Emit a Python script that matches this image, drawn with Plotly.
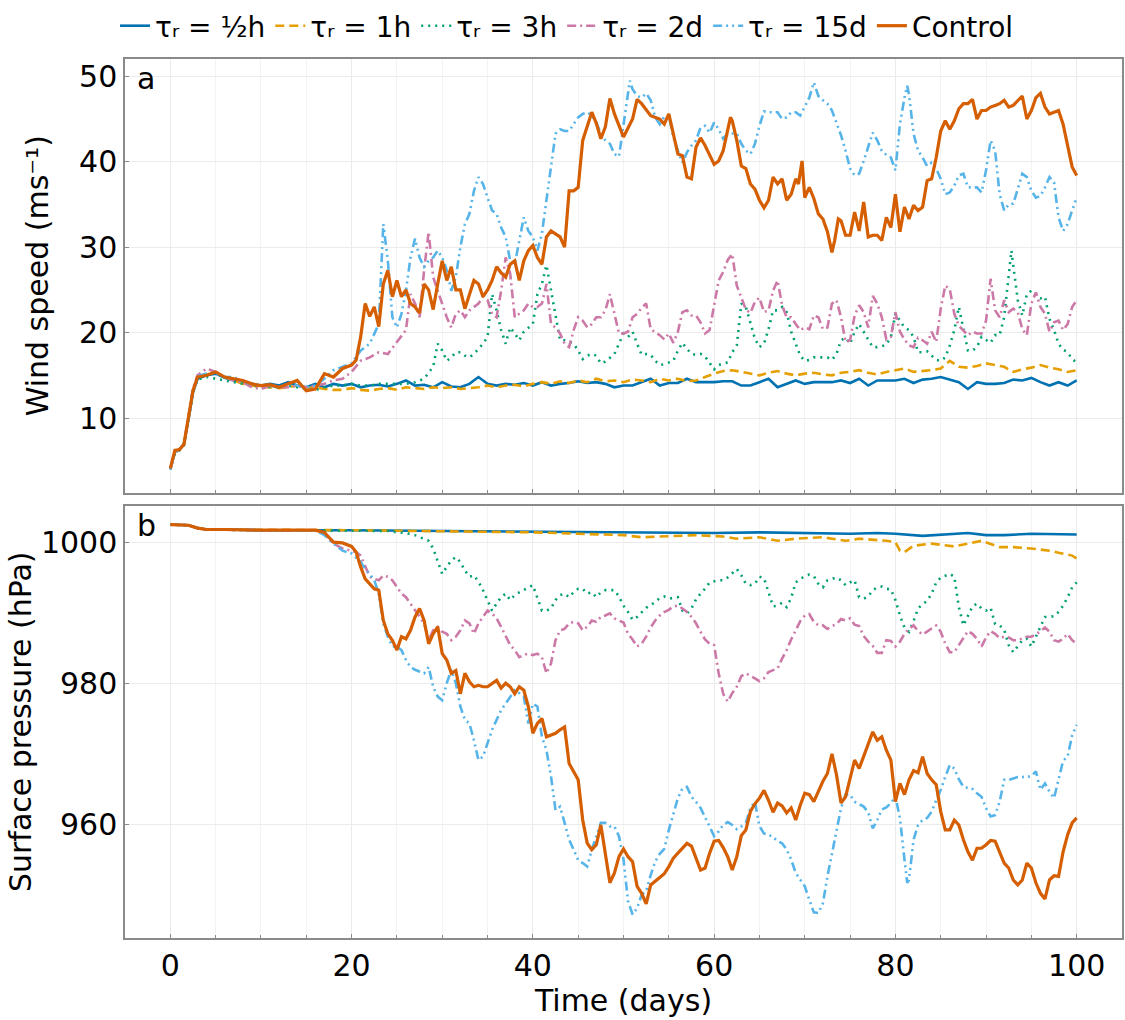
import plotly.graph_objects as go

# ---------------- data (day, value) ----------------
wind_half = [(0,4.0),(0.5,6.0),(1,6.3),(1.5,6.9),(2,9.8),(2.5,13.0),(3,14.6),(4,15.0),(5,15.2),(6,14.7),(7,14.4),(8,14.2),(9,14.0),(10,13.8),(11,14.0),(12,13.8),(13,14.2),(14,13.8),(15,13.6),(16,14.0),(17,13.6),(18,14.0),(19,13.8),(20,14.0),(21,13.6),(22,13.8),(23,13.9),(24,13.7),(25,14.0),(26,14.4),(27,13.8),(28,13.9),(29,13.6),(30,14.2),(31,13.7),(32,13.6),(33,14.0),(34,14.8),(35,14.0),(36,13.8),(37,14.0),(38,13.9),(39,14.1),(40,13.8),(41,14.2),(42,13.8),(43,14.0),(44,14.1),(45,14.3),(46,14.1),(47,14.2),(48,14.0),(49,13.6),(50,13.8),(51,13.8),(52,14.2),(53,14.6),(54,13.8),(55,14.1),(56,14.1),(57,14.6),(58,14.2),(59,14.2),(60,14.2),(61,14.3),(62,14.3),(63,13.8),(64,13.8),(65,14.2),(66,14.6),(67,13.6),(68,14.0),(69,14.4),(70,14.0),(71,14.2),(72,14.2),(73,14.2),(74,14.4),(75,14.1),(76,14.6),(77,13.8),(78,14.4),(79,14.4),(80,14.4),(81,14.6),(82,14.1),(83,14.5),(84,14.6),(85,14.8),(86,14.5),(87,14.2),(88,13.4),(89,14.2),(90,14.0),(91,14.0),(92,14.1),(93,14.5),(94,14.4),(95,14.7),(96,14.2),(97,13.8),(98,14.2),(99,13.8),(100,14.4)]

wind_1h = [(0,4.0),(0.5,6.0),(1,6.3),(1.5,7.0),(2,10.0),(2.5,13.2),(3,14.8),(4,15.2),(5,15.4),(6,14.8),(7,14.4),(8,14.0),(9,13.8),(10,13.6),(11,13.6),(12,13.5),(13,13.6),(14,13.8),(15,13.5),(16,13.6),(17,13.4),(18,13.3),(19,13.3),(20,13.5),(21,13.3),(22,13.2),(23,13.4),(24,13.5),(25,13.3),(26,13.6),(27,13.5),(28,13.4),(29,13.6),(30,13.5),(31,13.6),(32,13.4),(33,13.5),(34,13.6),(35,13.8),(36,13.6),(37,13.8),(38,13.9),(39,13.7),(40,14.0),(41,14.2),(42,14.0),(43,14.3),(44,14.1),(45,14.4),(46,14.2),(47,14.6),(48,14.3),(49,14.4),(50,14.2),(51,14.5),(52,14.4),(53,14.2),(54,14.6),(55,14.4),(56,14.6),(57,14.3),(58,14.4),(59,14.8),(60,15.2),(61,15.5),(62,15.6),(63,15.4),(64,15.2),(65,15.0),(66,15.3),(67,15.5),(68,15.2),(69,15.0),(70,15.2),(71,15.3),(72,15.1),(73,15.0),(74,15.3),(75,15.4),(76,15.6),(77,15.3),(78,15.1),(79,15.4),(80,15.6),(81,15.8),(82,15.4),(83,15.5),(84,15.6),(85,15.8),(86,16.7),(87,16.0),(88,15.9),(89,16.1),(90,16.4),(91,16.2),(92,16.0),(93,15.4),(94,15.7),(95,15.9),(96,16.2),(97,15.9),(98,15.7),(99,15.4),(100,15.6)]

wind_3h = [(0,4.0),(0.5,5.8),(1,6.2),(1.5,6.8),(2,9.8),(2.5,13.0),(3,14.5),(4,14.8),(5,14.6),(6,14.4),(7,14.2),(8,14.0),(9,13.8),(10,13.8),(11,13.6),(12,13.6),(13,13.8),(14,13.6),(15,13.4),(16,13.3),(17,13.6),(18,13.8),(19,13.8),(20,14.0),(21,13.8),(22,13.8),(23,14.0),(24,14.0),(25,14.0),(26,14.0),(27,14.2),(28,14.6),(29,16.0),(29.5,18.7),(30,17.9),(30.5,16.7),(31,17.1),(31.5,17.7),(32,17.7),(32.5,17.3),(33,17.1),(33.5,17.5),(34,18.1),(34.5,18.7),(35,19.5),(35.5,24.5),(36,22.6),(36.5,20.3),(37,18.7),(37.5,20.6),(38,19.9),(38.5,19.1),(39,20.1),(39.5,20.6),(40,21.0),(40.5,24.5),(41,25.7),(41.5,27.9),(42,24.9),(42.5,21.8),(43,19.1),(43.5,19.1),(44,18.9),(44.5,18.7),(45,17.9),(45.5,16.9),(46,17.3),(46.5,17.5),(47,17.3),(47.5,16.4),(48,16.6),(48.5,17.1),(49,17.5),(49.5,18.7),(50,19.9),(50.5,19.5),(51,20.1),(51.5,18.7),(52,17.4),(52.5,17.5),(53,17.4),(53.5,16.7),(54,16.2),(54.5,16.3),(55,16.5),(55.5,16.7),(56,17.9),(56.5,18.8),(57,18.1),(57.5,17.5),(58,17.4),(58.5,17.5),(59,17.2),(59.5,16.4),(60,15.7),(60.5,16.2),(61,16.4),(61.5,16.5),(62,17.7),(62.5,18.5),(63,23.4),(63.5,23.0),(64,21.0),(64.5,19.3),(65,18.3),(65.5,18.7),(66,20.4),(66.5,22.6),(67,22.6),(67.5,23.0),(68,22.4),(68.5,20.1),(69,18.7),(69.5,17.3),(70,16.7),(70.5,16.8),(71,17.1),(71.5,17.1),(72,17.1),(72.5,17.1),(73,16.8),(73.5,17.5),(74,19.1),(74.5,19.4),(75,18.7),(75.5,20.1),(76,21.0),(76.5,20.1),(77,19.1),(77.5,18.3),(78,18.3),(78.5,18.4),(79,18.6),(79.5,19.5),(80,22.2),(80.5,21.4),(81,20.6),(81.5,20.3),(82,19.5),(82.5,17.7),(83,17.7),(83.5,17.8),(84,17.3),(84.5,16.8),(85,16.7),(85.5,17.1),(86,18.5),(86.5,20.3),(87,23.0),(87.5,20.3),(88,17.9),(88.5,17.9),(89,18.3),(89.5,19.5),(90,19.1),(90.5,18.8),(91,19.7),(91.5,19.7),(92,21.8),(92.5,26.9),(92.8,29.6),(93,27.9),(93.5,23.8),(94,22.0),(94.5,24.5),(95,24.9),(95.5,24.2),(96,24.0),(96.5,24.2),(97,21.6),(97.5,20.3),(98,18.7),(98.5,18.0),(99,17.7),(99.5,16.9),(100,16.5)]

wind_2d = [(0,4.0),(0.5,6.0),(1,6.3),(1.5,7.0),(2,10.2),(2.5,13.5),(3,15.0),(4,15.8),(5,15.4),(6,14.8),(7,14.4),(8,14.2),(9,13.6),(10,13.4),(11,13.8),(12,13.6),(13,13.6),(14,13.8),(15,13.6),(16,13.8),(17,14.0),(18,14.4),(19,14.6),(20,15.4),(21,16.7),(22,17.1),(23,17.7),(24,17.5),(25,18.9),(26,20.3),(26.5,24.5),(27,23.4),(27.5,21.8),(28,27.3),(28.5,31.8),(29,26.5),(29.5,24.9),(30,23.4),(30.5,21.8),(31,20.6),(31.5,22.2),(32,22.6),(32.5,21.8),(33,22.6),(33.5,23.0),(34,23.4),(34.5,24.2),(35,23.8),(35.5,22.2),(36,21.8),(36.5,24.9),(37,28.8),(37.5,26.9),(38,21.8),(38.5,22.2),(39,22.6),(39.5,23.4),(40,23.0),(40.5,23.0),(41,23.4),(41.5,25.7),(42,21.0),(42.5,20.6),(43,19.9),(43.5,18.7),(44,18.3),(44.5,20.3),(45,21.8),(45.5,21.4),(46,20.6),(46.5,21.0),(47,21.8),(47.5,21.8),(48,22.6),(48.5,24.5),(49,22.2),(49.5,19.9),(50,19.9),(50.5,20.1),(51,21.8),(51.5,22.2),(52,22.9),(52.5,23.4),(53,20.4),(53.5,20.1),(54,19.7),(54.5,19.2),(55,19.9),(55.5,18.8),(56,20.1),(56.5,22.4),(57,22.6),(57.5,22.0),(58,22.0),(58.5,21.2),(59,19.9),(59.5,20.3),(60,23.0),(60.5,26.1),(61,27.1),(61.5,28.5),(62,29.2),(62.5,25.5),(63,24.1),(63.5,22.7),(64,22.3),(64.5,23.6),(65,24.1),(65.5,22.4),(66,22.6),(66.5,24.9),(67,26.1),(67.5,23.2),(68,21.8),(68.5,21.8),(69,21.0),(69.5,20.3),(70,20.6),(70.5,20.4),(71,22.0),(71.5,21.8),(72,20.4),(72.5,20.6),(73,23.4),(73.5,23.8),(74,21.8),(74.5,18.9),(75,19.1),(75.5,22.0),(76,23.2),(76.5,22.4),(77,20.6),(77.5,24.3),(78,23.4),(78.5,21.8),(79,19.2),(79.5,19.5),(80,22.4),(80.5,20.1),(81,19.2),(81.5,18.5),(82,18.3),(82.5,19.4),(83,19.1),(83.5,18.7),(84,20.1),(84.5,18.9),(85,22.8),(85.5,25.5),(86,25.1),(86.5,22.2),(87,20.8),(87.5,20.3),(88,19.7),(88.5,20.1),(89,19.9),(89.5,19.9),(90,21.4),(90.5,26.3),(91,22.6),(91.5,21.8),(92,23.8),(92.5,22.4),(93,22.8),(93.5,22.4),(94,20.4),(94.5,19.7),(95,23.4),(95.5,24.7),(96,23.0),(96.5,22.2),(97,20.1),(97.5,21.2),(98,21.4),(98.5,20.3),(99,21.0),(99.5,23.0),(100,23.8)]

wind_15d = [(0,4.0),(0.5,6.0),(1,6.3),(1.5,7.0),(2,10.0),(2.5,13.3),(3,14.9),(4,15.2),(5,15.2),(6,14.8),(7,14.8),(8,14.2),(9,14.0),(10,13.8),(11,13.8),(12,13.6),(13,14.0),(14,13.8),(15,13.6),(16,13.8),(17,14.6),(18,15.6),(19,16.0),(20,16.4),(21,17.9),(22,18.7),(23,21.0),(23.5,32.7),(24,28.4),(24.5,21.8),(25,20.6),(25.5,22.2),(26,24.9),(26.5,28.8),(27,31.0),(27.5,28.8),(28,27.7),(28.5,28.4),(29,28.8),(29.5,29.6),(30,28.8),(30.5,27.3),(31,24.9),(31.5,26.5),(32,30.0),(32.5,32.7),(33,33.9),(33.5,36.6),(34,38.2),(34.5,37.4),(35,35.8),(35.5,34.3),(36,33.9),(36.5,32.3),(37,31.2),(37.5,28.4),(38,28.0),(38.5,30.8),(39,33.5),(39.5,31.9),(40,31.2),(40.5,29.6),(41,31.6),(41.5,35.5),(42,39.4),(42.5,43.3),(43,43.8),(43.5,43.6),(44,43.6),(44.5,44.4),(45,45.2),(45.5,45.6),(46,45.8),(46.5,45.4),(47,44.6),(47.5,43.3),(48,42.5),(48.5,42.1),(49,40.9),(49.5,40.6),(50,44.4),(50.7,49.5),(51,48.5),(51.5,47.7),(52,47.5),(52.5,48.0),(53,47.2),(53.5,45.2),(54,44.4),(54.5,45.3),(55,45.4),(55.5,42.9),(56,41.3),(56.5,39.9),(57,41.1),(57.5,41.9),(58,42.5),(58.5,44.0),(59,44.2),(59.5,43.4),(60,44.6),(60.5,43.8),(61,42.7),(61.5,43.3),(62,43.3),(62.5,43.3),(63,42.1),(63.5,41.3),(64,40.9),(64.5,42.1),(65,44.2),(65.5,45.9),(66,45.8),(66.5,45.8),(67,45.8),(67.5,45.0),(68,45.2),(68.5,45.8),(69,45.8),(69.5,45.4),(70,46.4),(70.5,47.5),(71,49.3),(71.5,47.7),(72,47.2),(72.5,46.8),(73,46.0),(73.5,44.6),(74,43.1),(74.5,41.3),(75,39.2),(75.5,38.4),(76,38.6),(76.5,40.1),(77,41.7),(77.5,43.4),(78,42.5),(78.5,41.3),(79,40.8),(79.5,40.5),(80,39.0),(80.5,44.4),(81,47.5),(81.3,48.9),(81.5,47.9),(82,43.3),(82.5,41.3),(83,40.5),(83.5,39.5),(84,39.9),(84.5,39.2),(85,38.0),(85.5,36.2),(86,36.4),(86.5,37.2),(87,38.4),(87.5,38.6),(88,37.0),(88.5,37.0),(89,37.0),(89.5,36.4),(90,39.0),(90.5,42.5),(91,41.3),(91.5,36.2),(92,34.3),(92.5,35.0),(93,35.1),(93.5,36.8),(94,38.6),(94.5,38.2),(95,36.6),(95.5,35.8),(96,36.0),(96.5,37.0),(97,38.2),(97.5,37.6),(98,33.5),(98.5,31.9),(99,32.7),(99.5,34.3),(100,35.8)]

wind_ctrl = [(0,4.1),(0.5,6.2),(1,6.3),(1.5,6.9),(2,10.1),(2.5,13.2),(3,14.8),(4,15.0),(5,15.4),(6,14.8),(7,14.6),(8,14.4),(9,14.0),(10,13.8),(11,13.9),(12,13.6),(13,14.0),(14,14.4),(15,13.2),(16,13.4),(17,15.2),(18,14.8),(19,15.8),(20,16.2),(20.5,16.8),(21,19.5),(21.5,23.4),(22,21.9),(22.5,23.0),(23,20.7),(23.5,25.7),(24,27.3),(24.5,24.2),(25,26.1),(25.5,24.2),(26,25.0),(26.5,23.4),(27,23.0),(27.5,22.3),(28,25.7),(28.5,25.0),(29,22.7),(29.5,25.7),(30,28.4),(30.5,26.1),(31,27.7),(31.5,25.0),(32,25.0),(32.5,22.8),(33,24.6),(33.5,26.1),(34,25.7),(34.5,24.2),(35,25.0),(35.5,26.1),(36,27.7),(36.5,27.0),(37,26.5),(37.5,28.0),(38,28.4),(38.5,26.1),(39,28.4),(39.5,29.6),(40,30.2),(40.5,28.8),(41,28.0),(41.5,31.2),(42,31.9),(42.5,31.5),(43,31.2),(43.5,30.0),(44,36.6),(44.5,36.6),(45,37.0),(45.5,42.5),(46,44.1),(46.5,45.8),(47,44.5),(47.5,42.7),(48,44.1),(48.5,47.4),(49,45.6),(50,42.9),(51,45.0),(51.5,47.3),(52,46.8),(53,45.4),(54,45.0),(54.5,44.4),(55,45.6),(56,40.9),(56.5,40.7),(57,38.2),(57.5,38.0),(58,41.7),(58.5,42.8),(59,41.9),(60,39.7),(60.5,40.1),(61,41.3),(61.5,44.0),(61.8,45.2),(62,44.8),(62.5,42.5),(63,39.5),(63.5,39.2),(64,37.4),(64.5,36.8),(65,35.5),(65.5,34.6),(66,35.5),(66.5,38.2),(67,37.4),(67.5,38.0),(68,35.5),(68.5,36.2),(69,38.0),(69.3,37.4),(69.7,40.1),(70,35.8),(70.5,37.0),(71,35.7),(71.5,33.9),(72,33.3),(72.5,31.8),(73,29.4),(73.3,30.8),(73.7,33.3),(74,33.1),(74.5,31.4),(75,31.4),(75.5,34.1),(76,31.9),(76.5,35.3),(77,31.2),(77.5,31.4),(78,31.4),(78.5,30.8),(79,33.5),(79.5,32.3),(80,36.2),(80.5,31.8),(81,34.7),(81.5,33.3),(82,34.9),(82.5,34.3),(83,34.7),(83.5,37.8),(84,38.0),(84.5,40.5),(85,43.6),(85.5,44.8),(86,43.8),(86.5,44.8),(87,46.2),(87.5,46.8),(88,46.8),(88.5,47.3),(89,45.0),(89.5,46.0),(90,46.0),(90.5,46.4),(91,46.6),(91.5,46.8),(92,47.2),(92.5,46.4),(93,46.6),(93.5,47.2),(94,47.7),(94.5,45.0),(95,46.0),(95.5,47.5),(96,48.0),(96.5,46.4),(97,45.6),(97.5,45.8),(98,46.0),(98.5,44.4),(99,42.1),(99.5,39.4),(100,38.4)]

pres_half = [(0,1002.5),(1,1002.5),(2,1002.4),(3,1002.0),(4,1001.8),(6,1001.8),(10,1001.7),(20,1001.7),(30,1001.6),(40,1001.5),(50,1001.4),(55,1001.3),(60,1001.3),(65,1001.4),(70,1001.3),(75,1001.2),(78,1001.3),(80,1001.2),(83,1000.9),(86,1001.2),(88,1001.3),(90,1001.0),(92,1001.0),(95,1001.2),(98,1001.2),(100,1001.1)]

pres_1h = [(0,1002.5),(1,1002.5),(2,1002.4),(3,1002.0),(4,1001.8),(20,1001.7),(30,1001.6),(40,1001.4),(45,1001.2),(50,1001.0),(52,1000.7),(55,1000.9),(58,1001.0),(61,1000.8),(62.5,1000.5),(65,1000.7),(67,1000.2),(69,1000.5),(72,1000.7),(74.5,1000.2),(76,1000.5),(79,1000.2),(80,1000.0),(80.5,998.8),(81,998.6),(82,999.5),(84,999.8),(86.5,999.4),(88,999.8),(89.5,1000.2),(91.5,999.3),(93,999.3),(95,999.1),(97,998.8),(98,998.5),(99.5,998.1),(100,997.7)]

pres_3h = [(0,1002.5),(2,1002.4),(3,1002.0),(4,1001.8),(10,1001.7),(20,1001.7),(24,1001.6),(25,1001.4),(26,1001.3),(27,1001.0),(28,1000.5),(28.5,1000.2),(29,999.1),(29.5,997.4),(30,995.5),(30.5,996.5),(31,997.4),(31.5,997.9),(32,997.2),(32.5,996.0),(33,995.1),(33.5,995.3),(34,994.4),(34.5,993.2),(35,991.8),(35.5,990.3),(36,991.3),(36.5,992.2),(37,992.7),(37.5,991.8),(38,992.5),(38.5,992.9),(39,993.2),(39.5,993.6),(40,993.9),(40.5,992.2),(41,990.3),(41.5,990.3),(42,990.6),(42.5,991.8),(43,992.5),(43.5,992.7),(44,992.2),(44.5,992.9),(45,993.4),(45.5,993.4),(46,992.7),(46.5,992.9),(47,992.2),(47.5,992.9),(48,993.2),(48.5,993.2),(49,993.2),(49.5,992.3),(50,991.0),(50.5,990.1),(51,989.0),(51.5,989.4),(52,990.0),(52.5,990.7),(53,991.1),(53.5,991.5),(54,992.1),(54.5,992.3),(55,992.0),(55.5,992.1),(56,992.2),(56.5,990.3),(57,989.9),(57.5,990.6),(58,991.9),(58.5,992.7),(59,993.4),(59.5,994.3),(60,994.5),(60.5,994.6),(61,994.6),(61.5,995.0),(62,995.6),(62.5,996.2),(63,995.3),(63.5,994.1),(64,993.9),(64.5,994.1),(65,995.1),(65.5,994.9),(66,992.9),(66.5,990.9),(67,991.0),(67.5,991.4),(68,990.8),(68.5,992.1),(69,994.3),(69.5,994.8),(70,995.2),(70.5,995.4),(71,995.2),(71.5,994.1),(72,993.6),(72.5,994.6),(73,994.8),(73.5,995.0),(74,994.6),(74.5,993.9),(75,994.3),(75.5,994.6),(76,992.2),(76.5,992.0),(77,992.3),(77.5,993.2),(78,993.6),(78.5,993.7),(79,993.4),(79.5,993.3),(80,991.8),(80.5,989.6),(81,987.9),(81.5,987.3),(82,988.8),(82.5,990.6),(83,991.2),(83.5,991.7),(84,992.7),(84.5,994.3),(85,995.0),(85.5,995.3),(86,995.5),(86.5,995.1),(87,990.8),(87.5,988.2),(88,989.5),(88.5,990.9),(89,991.3),(89.5,990.6),(90,990.3),(90.5,990.7),(91,988.4),(91.5,988.2),(92,987.6),(92.5,985.4),(93,984.4),(93.5,985.2),(94,986.1),(94.5,986.3),(95,985.2),(95.5,986.6),(96,988.0),(96.5,989.4),(97,989.4),(97.5,989.5),(98,990.1),(98.5,991.0),(99,992.2),(99.5,993.6),(100,994.3)]

pres_2d = [(0,1002.5),(2,1002.4),(3,1002.0),(4,1001.8),(10,1001.7),(16,1001.7),(17,1001.2),(18,999.8),(19,999.1),(20,998.8),(20.5,998.6),(21,998.1),(21.5,996.5),(22,995.1),(22.5,994.8),(23,994.6),(23.5,995.3),(24,995.1),(24.5,994.6),(25,993.6),(25.5,992.7),(26,992.2),(26.5,991.3),(27,990.3),(27.5,989.4),(28,988.5),(28.5,986.1),(29,987.5),(29.5,988.0),(30,987.3),(30.5,987.0),(31,986.1),(31.5,986.6),(32,987.5),(32.5,988.9),(33,988.5),(33.5,987.0),(34,988.5),(34.5,989.4),(35,990.3),(35.5,989.9),(36,989.2),(36.5,988.0),(37,986.6),(37.5,985.4),(38,984.7),(38.5,983.7),(39,984.0),(39.5,984.2),(40,984.0),(40.5,984.2),(41,983.7),(41.5,981.4),(42,982.8),(42.5,986.1),(43,987.5),(43.5,987.7),(44,988.5),(44.5,988.7),(45,988.5),(45.5,987.5),(46,988.0),(46.5,988.9),(47,988.7),(47.5,989.4),(48,989.6),(48.5,989.9),(49,989.2),(49.5,988.9),(50,988.6),(50.5,987.0),(51,986.2),(51.5,985.2),(52,985.6),(52.5,986.6),(53,987.9),(53.5,988.9),(54,989.6),(54.5,990.1),(55,990.4),(55.5,990.9),(56,991.0),(56.5,990.6),(57,990.1),(57.5,989.4),(58,988.5),(58.5,987.3),(59,986.2),(59.5,985.6),(60,985.4),(60.5,981.4),(61,978.5),(61.5,977.4),(62,978.6),(62.5,979.5),(63,981.0),(63.5,981.4),(64,981.1),(64.5,980.7),(65,980.3),(65.5,980.7),(66,981.6),(66.5,981.8),(67,982.1),(67.5,983.5),(68,984.7),(68.5,986.2),(69,987.5),(69.5,988.8),(70,989.6),(70.5,989.8),(71,988.7),(71.5,988.2),(72,988.2),(72.5,987.7),(73,988.1),(73.5,988.4),(74,989.1),(74.5,988.9),(75,989.2),(75.5,988.3),(76,988.1),(76.5,986.7),(77,985.9),(77.5,985.3),(78,984.3),(78.5,984.3),(79,986.1),(79.5,986.0),(80,985.2),(80.5,985.9),(81,987.0),(81.5,987.7),(82,988.2),(82.5,987.4),(83,986.9),(83.5,987.3),(84,987.7),(84.5,988.2),(85,987.3),(85.5,985.6),(86,984.4),(86.5,984.4),(87,985.4),(87.5,986.5),(88,987.4),(88.5,987.0),(89,986.3),(89.5,985.2),(90,986.5),(90.5,987.4),(91,987.0),(91.5,986.4),(92,986.6),(92.5,986.5),(93,986.1),(93.5,986.1),(94,986.4),(94.5,986.6),(95,986.6),(95.5,986.9),(96,987.4),(96.5,987.9),(97,987.3),(97.5,986.1),(98,985.9),(98.5,986.3),(99,987.0),(99.5,986.1),(100,985.6)]

pres_15d = [(0,1002.5),(2,1002.4),(3,1002.0),(4,1001.8),(10,1001.7),(16,1001.7),(17,1001.0),(18,999.8),(19,998.8),(20,998.4),(21,997.2),(21.5,996.2),(22,995.5),(22.5,994.6),(23,992.7),(23.5,988.5),(24,986.6),(24.5,985.2),(25,985.2),(25.5,984.7),(26,983.3),(26.5,982.3),(27,981.9),(27.5,981.6),(28,981.4),(28.5,982.3),(29,979.5),(29.5,978.1),(30,977.6),(30.5,980.0),(31,981.9),(31.5,980.0),(32,976.7),(32.5,974.8),(33,974.3),(33.5,971.9),(34,969.1),(34.5,969.6),(35,971.5),(35.5,973.4),(36,974.8),(36.5,976.2),(37,977.1),(37.5,978.1),(38,979.0),(38.5,978.6),(39,978.1),(39.5,974.3),(40,977.1),(40.5,976.7),(41,972.4),(41.5,970.5),(42,966.8),(42.5,962.0),(43,962.5),(43.5,960.2),(44,957.8),(44.5,956.4),(45,954.9),(45.5,954.5),(46,954.0),(46.5,956.4),(47,958.3),(47.5,960.2),(48,960.2),(48.5,959.7),(49,959.7),(49.5,958.3),(50,955.0),(50.5,949.1),(51,947.2),(51.5,948.1),(52,950.0),(52.5,950.5),(53,952.8),(53.5,954.7),(54,955.8),(54.5,956.5),(55,959.2),(55.5,961.6),(56,963.7),(56.5,965.1),(57,965.3),(57.5,963.9),(58,963.2),(58.5,962.3),(59,961.1),(59.5,959.7),(60,958.3),(60.5,959.0),(61,959.9),(61.5,960.3),(62,959.9),(62.5,959.3),(63,959.7),(63.5,960.2),(64,962.3),(64.5,963.2),(65,959.7),(65.5,958.7),(66,958.5),(66.5,958.2),(67,957.6),(67.5,957.3),(68,956.4),(68.5,955.0),(69,953.1),(69.5,952.1),(70,951.2),(70.5,949.3),(71,947.5),(71.5,947.4),(72,948.8),(72.5,952.6),(73,955.9),(73.5,959.2),(74,962.3),(74.5,964.2),(75,964.2),(75.5,963.2),(76,962.9),(76.5,962.5),(77,961.7),(77.5,959.4),(78,960.6),(78.5,962.1),(79,962.4),(79.5,963.0),(80,963.9),(80.5,960.9),(81,955.0),(81.3,951.7),(81.5,952.1),(82,957.8),(82.5,959.9),(83,960.6),(83.5,960.9),(84,961.8),(84.5,963.4),(85,964.9),(85.5,966.7),(86,968.4),(86.5,967.9),(87,966.4),(87.5,965.3),(88,965.1),(88.5,965.0),(89,964.4),(89.5,963.9),(90,962.3),(90.5,961.1),(91,961.3),(91.5,963.2),(92,966.3),(92.5,966.3),(93,966.5),(93.5,966.7),(94,966.7),(94.5,966.7),(95,966.8),(95.5,967.5),(96,964.9),(96.5,965.8),(97,964.6),(97.5,963.7),(98,966.5),(98.5,969.0),(99,969.6),(99.5,972.6),(100,974.1)]

pres_ctrl = [(0,1002.5),(2,1002.4),(3,1002.0),(4,1001.8),(6,1001.8),(10,1001.7),(16,1001.7),(17,1001.4),(17.5,1000.7),(18,1000.0),(19,999.9),(20,999.4),(20.5,998.6),(21,996.5),(21.5,994.8),(22,994.1),(22.5,993.4),(23,993.2),(23.5,988.9),(24,987.0),(24.5,986.1),(25,984.7),(25.5,986.6),(26,986.3),(26.5,987.5),(27,989.4),(27.5,990.6),(28,988.9),(28.5,985.6),(29,987.0),(29.5,988.0),(30,984.2),(30.5,983.3),(31,981.4),(31.5,981.8),(32,978.5),(32.5,981.4),(33,980.2),(33.5,979.5),(34,979.7),(34.5,979.5),(35,979.5),(35.5,980.0),(36,980.4),(36.5,979.3),(37,980.0),(37.5,979.5),(38,978.5),(38.5,979.5),(39,979.0),(39.5,976.7),(40,972.9),(40.5,974.3),(41,975.0),(41.5,972.4),(42,972.6),(42.5,972.9),(43,973.4),(43.5,973.8),(44,968.6),(44.5,967.5),(45,966.3),(45.5,960.6),(46,957.3),(46.5,956.4),(47,957.1),(47.5,959.9),(48,955.4),(48.5,951.7),(49,953.1),(49.5,955.4),(50,956.5),(50.5,955.4),(51,954.7),(51.5,951.2),(52,950.2),(52.5,948.7),(53,951.4),(53.5,951.9),(54,952.5),(54.5,953.0),(55,954.0),(55.5,955.2),(56,955.9),(56.5,956.6),(57,957.3),(57.5,956.9),(58,955.2),(58.5,953.5),(59,953.8),(59.5,955.9),(60,957.6),(60.5,957.7),(61,956.7),(61.5,955.4),(62,953.5),(62.5,955.4),(63,958.4),(63.5,959.2),(64,961.8),(64.5,962.9),(65,963.7),(65.5,964.8),(66,963.4),(66.5,961.7),(67,963.0),(67.5,962.6),(68,961.6),(68.5,962.3),(69,960.6),(69.5,962.7),(70,964.4),(70.5,964.2),(71,963.2),(71.5,964.6),(72,966.1),(72.5,967.2),(73,970.0),(73.5,967.0),(74,963.0),(74.5,963.9),(75,966.7),(75.5,969.1),(76,967.9),(76.5,969.7),(77,971.2),(77.5,973.1),(78,971.9),(78.5,972.4),(79,970.5),(79.5,969.1),(80,963.2),(80.5,965.8),(81,964.2),(81.5,966.3),(82,967.6),(82.5,967.3),(83,969.6),(83.5,967.2),(84,966.3),(84.5,965.6),(85,961.8),(85.5,959.2),(86,959.2),(86.5,960.6),(87,959.9),(87.5,957.8),(88,956.1),(88.5,954.9),(89,956.6),(89.5,956.6),(90,957.1),(90.5,957.7),(91,957.6),(91.5,956.1),(92,954.5),(92.5,953.8),(93,952.1),(93.5,951.4),(94,952.1),(94.5,954.5),(95,953.8),(95.5,951.7),(96,950.2),(96.5,949.4),(97,952.1),(97.5,952.7),(98,952.6),(98.5,956.1),(99,958.5),(99.5,960.2),(100,960.9)]

series_names = ["τᵣ = ½h", "τᵣ = 1h", "τᵣ = 3h", "τᵣ = 2d", "τᵣ = 15d", "Control"]
x_ticks = [0, 20, 40, 60, 80, 100]
wind_ticks = [10, 20, 30, 40, 50]
pres_ticks = [960, 980, 1000]

# ---------------- styles ----------------
colors = ["#0072B2", "#E69F00", "#009E73", "#CC79A7", "#56B4E9", "#D55E00"]
dashes = ["solid", "9px,5px", "2px,5px", "9px,4px,2px,4px", "9px,4px,2px,4px,2px,4px", "solid"]
widths = [2.6, 2.6, 2.6, 2.6, 2.6, 3.2]

wind = [wind_half, wind_1h, wind_3h, wind_2d, wind_15d, wind_ctrl]
pres = [pres_half, pres_1h, pres_3h, pres_2d, pres_15d, pres_ctrl]

FONT = "DejaVu Sans"
fig = go.Figure()
for i in range(6):
    xs, ys = zip(*wind[i])
    fig.add_trace(go.Scatter(x=xs, y=ys, mode="lines", name=series_names[i],
                             line=dict(color=colors[i], dash=dashes[i], width=widths[i]),
                             xaxis="x", yaxis="y", legendgroup=str(i), showlegend=True))
for i in range(6):
    xs, ys = zip(*pres[i])
    fig.add_trace(go.Scatter(x=xs, y=ys, mode="lines", name=series_names[i],
                             line=dict(color=colors[i], dash=dashes[i], width=widths[i]),
                             xaxis="x2", yaxis="y2", legendgroup=str(i), showlegend=False))

grid = "#ebebeb"
frame = "#8a8a8a"
common_x = dict(range=[-5, 105], tickvals=x_ticks, showgrid=True, gridcolor=grid, gridwidth=1,
                showline=True, mirror=True, linecolor=frame, linewidth=1.5,
                ticks="inside", ticklen=4, tickcolor=frame, zeroline=False,
                minor=dict(dtick=5, showgrid=True, gridcolor="#f3f3f3", ticks="inside", ticklen=3, tickcolor=frame),
                tickfont=dict(family=FONT, size=30, color="black"))
common_y = dict(showgrid=True, gridcolor=grid, gridwidth=1, showline=True, mirror=True,
                linecolor=frame, linewidth=1.5, ticks="inside", ticklen=4, tickcolor=frame,
                zeroline=False, tickfont=dict(family=FONT, size=30, color="black"))

fig.update_layout(
    width=1125, height=1020,
    margin=dict(l=125, r=1, t=58, b=82),
    paper_bgcolor="white", plot_bgcolor="white",
    font=dict(family=FONT, size=30, color="black"),
    xaxis=dict(common_x, domain=[0, 1], anchor="y", showticklabels=False, matches="x2"),
    xaxis2=dict(common_x, domain=[0, 1], anchor="y2",
                title=dict(text="Time (days)", font=dict(family=FONT, size=30), standoff=6)),
    yaxis=dict(common_y, domain=[0.5068, 1], anchor="x", range=[1.28, 52.03], tickvals=wind_ticks,
               title=dict(text="Wind speed (ms⁻¹)", font=dict(family=FONT, size=30), standoff=22)),
    yaxis2=dict(common_y, domain=[0, 0.492], anchor="x2", range=[943.87, 1005.2], tickvals=pres_ticks,
                title=dict(text="Surface pressure (hPa)", font=dict(family=FONT, size=30), standoff=0)),
    legend=dict(orientation="h", x=-0.01, xanchor="left", y=1.066, yanchor="top",
                font=dict(family=FONT, size=28), bgcolor="rgba(0,0,0,0)",
                itemwidth=30, tracegroupgap=0, traceorder="normal"),
    annotations=[
        dict(text="a", x=0.01, y=1, xref="x domain", yref="y domain", xanchor="left", yanchor="top",
             showarrow=False, font=dict(family=FONT, size=30)),
        dict(text="b", x=0.01, y=1, xref="x2 domain", yref="y2 domain", xanchor="left", yanchor="top",
             showarrow=False, font=dict(family=FONT, size=30)),
    ],
)

fig.write_html("out.html")
